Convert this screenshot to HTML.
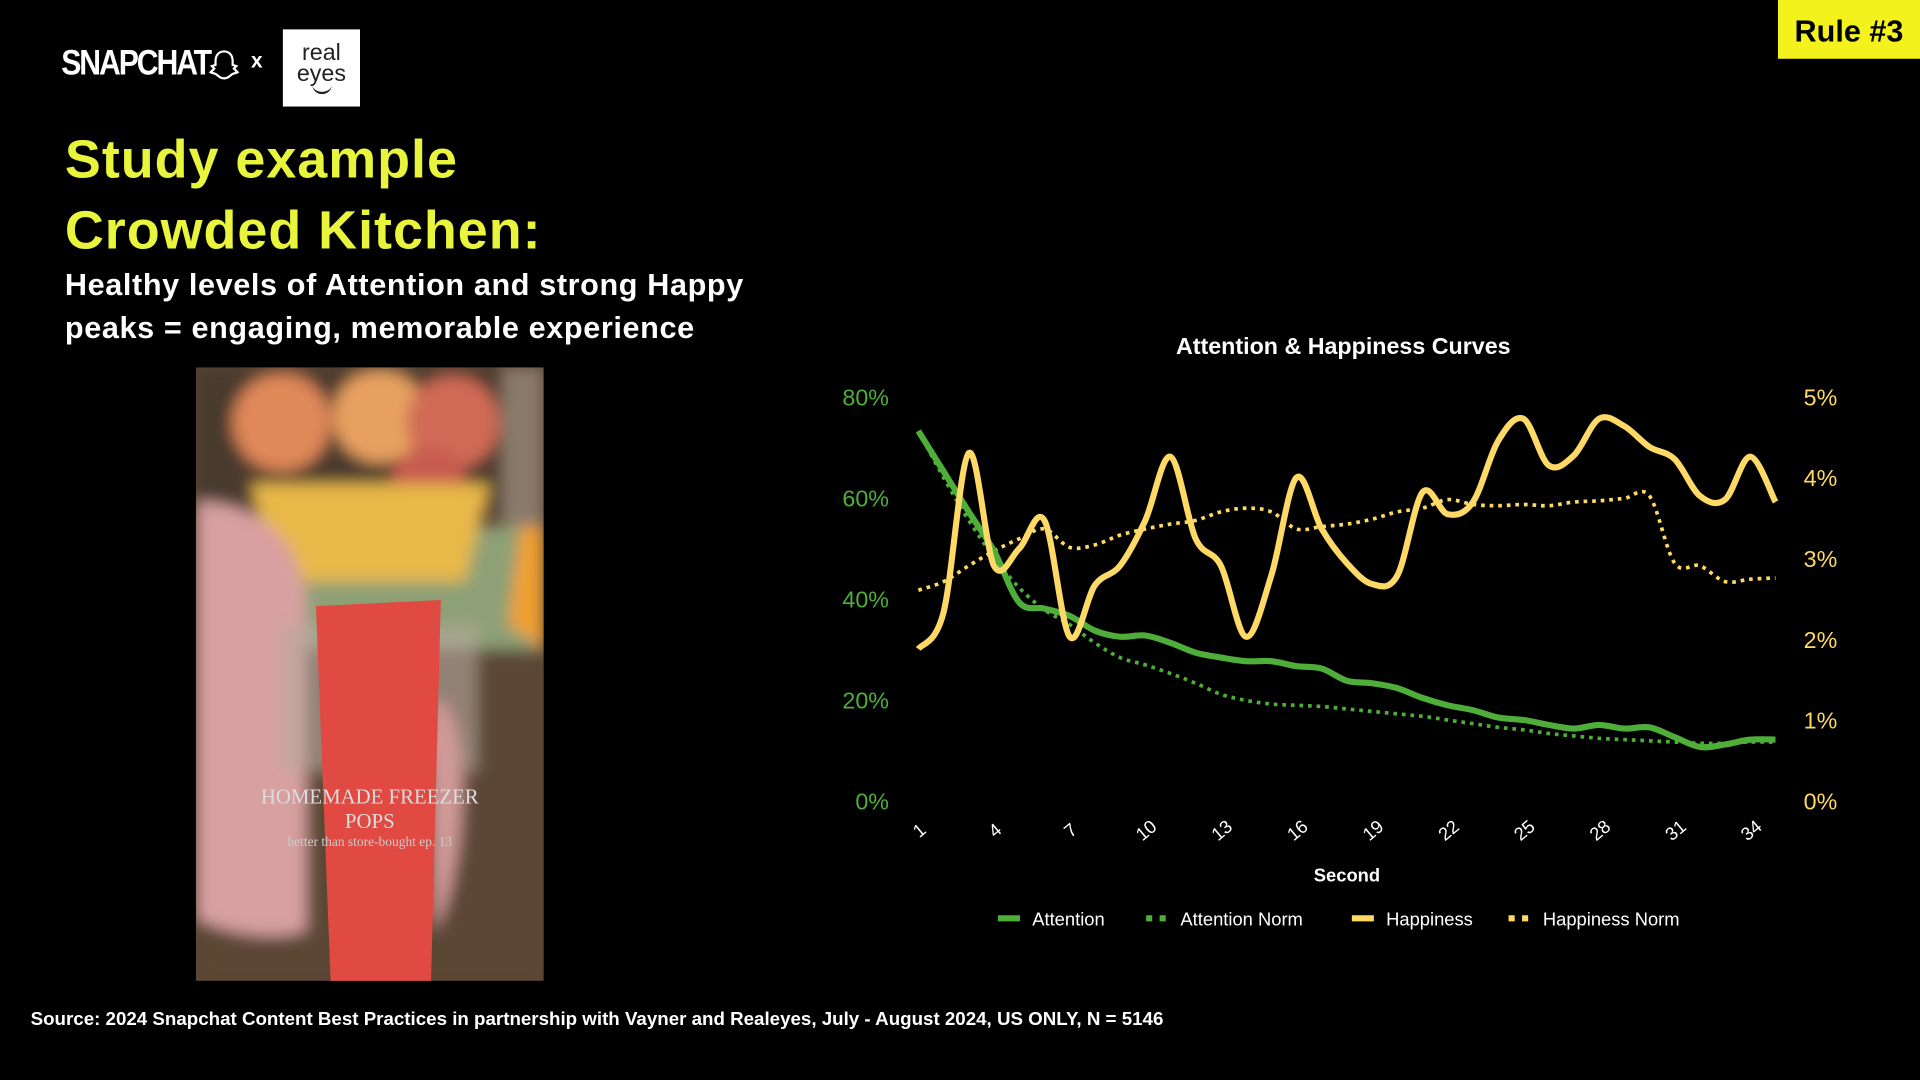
<!DOCTYPE html>
<html><head><meta charset="utf-8"><style>
html,body{margin:0;padding:0;background:#000;overflow:hidden}
#stage{position:absolute;left:0;top:0;width:1568px;height:882px;transform:scale(1.22449);transform-origin:0 0;background:#000;font-family:"Liberation Sans",sans-serif}
.abs{position:absolute;white-space:nowrap}
</style></head><body>
<div id="stage">
<div class="abs" style="left:50px;top:36px;color:#fff;font-weight:bold;font-size:29px;letter-spacing:-2px;transform:scaleX(0.85);transform-origin:0 0">SNAPCHAT</div>
<svg class="abs" style="left:170px;top:40px" width="26" height="26" viewBox="0 0 26 26"><path d="M13 2c5 0 7 4 7 8v3l3 1-2 2 3 3c-2 1-4 1-5 2-2 2-4 3-6 3s-4-1-6-3c-1-1-3-1-5-2l3-3-2-2 3-1v-3c0-4 2-8 7-8z" fill="none" stroke="#fff" stroke-width="1.8"/></svg>
<div class="abs" style="left:205px;top:40px;color:#fff;font-weight:bold;font-size:17px">x</div>
<div class="abs" style="left:231px;top:24px;width:63px;height:63px;background:#fff;color:#222;font-size:19px;line-height:17px;text-align:center;padding-top:11px;box-sizing:border-box">real<br>eyes<div style="width:16px;height:6px;border-bottom:2px solid #222;border-radius:0 0 10px 10px;margin:0 auto"></div></div>
<div class="abs" style="left:1452px;top:0;width:116px;height:48px;background:#f4f21c;color:#000;font-weight:bold;font-size:25px;line-height:52px;text-align:center">Rule #3</div>
<div class="abs" style="left:53px;top:102px;color:#e8f53c;font-weight:bold;font-size:44px;line-height:58px;letter-spacing:0.8px">Study example<br>Crowded Kitchen:</div>
<div class="abs" style="left:53px;top:216px;color:#fff;font-weight:bold;font-size:25px;line-height:35px;letter-spacing:0.5px">Healthy levels of Attention and strong Happy<br>peaks = engaging, memorable experience</div>
<svg class="abs" style="left:160px;top:300px" width="284" height="501" viewBox="0 0 284 501">
<defs><filter id="b"><feGaussianBlur stdDeviation="6"/></filter></defs>
<rect width="284" height="501" fill="#5a4432"/>
<g filter="url(#b)">
<rect width="284" height="120" fill="#4a3a2e"/>
<rect x="250" y="0" width="34" height="250" fill="#8a7a6a"/>
<rect x="0" y="130" width="284" height="100" fill="#8ea076"/>
<rect x="0" y="230" width="284" height="271" fill="#5b4634"/>
<circle cx="70" cy="45" r="40" fill="#e08858"/><circle cx="150" cy="40" r="38" fill="#e8a060"/><circle cx="210" cy="45" r="38" fill="#d06a55"/><circle cx="190" cy="95" r="30" fill="#c85a50"/>
<polygon points="45,95 240,95 220,175 65,175" fill="#e8b848"/>
<polygon points="265,130 284,130 284,230 255,210" fill="#f0a030"/>
<path d="M0 110 C60 110 90 150 90 200 L90 460 C60 470 20 460 0 450 Z" fill="#d8a0a0"/>
<rect x="70" y="210" width="160" height="120" fill="#b8a8a0" opacity="0.6"/>
<path d="M195 270 C230 280 220 420 195 460 L190 300 Z" fill="#d09a98"/>
</g>
<path d="M98 195 L200 190 L192 501 L110 501 Z" fill="#e04a42"/>
<text x="142" y="356" text-anchor="middle" fill="#ddd" font-family="Liberation Serif,serif" font-size="17">HOMEMADE FREEZER</text>
<text x="142" y="376" text-anchor="middle" fill="#ddd" font-family="Liberation Serif,serif" font-size="17">POPS</text>
<text x="142" y="391" text-anchor="middle" fill="#ccc" font-family="Liberation Serif,serif" font-size="11">better than store-bought ep. 13</text>
</svg>
<div class="abs" style="left:25px;top:824px;color:#fff;font-weight:bold;font-size:15.3px">Source: 2024 Snapchat Content Best Practices in partnership with Vayner and Realeyes, July - August 2024, US ONLY, N = 5146</div>
<svg id="ch" class="abs" style="left:0;top:0" width="1568" height="882" font-family="Liberation Sans,sans-serif"></svg>
</div>
<script>
const s=document.getElementById('ch');let h='';
h+='<text x="1097" y="289" text-anchor="middle" fill="#fff" font-weight="bold" font-size="19">Attention &amp; Happiness Curves</text>';
['0%','20%','40%','60%','80%'].forEach((t,i)=>{h+=`<text x="726" y="${661-i*82.5}" text-anchor="end" fill="#4fae3a" font-size="19">${t}</text>`;});
['0%','1%','2%','3%','4%','5%'].forEach((t,i)=>{h+=`<text x="1473" y="${661-i*66}" fill="#ffd966" font-size="19">${t}</text>`;});
const X=i=>750+(i-1)*700/34;
for(let i=1;i<=35;i+=3){h+=`<text transform="translate(${X(i)+4},${682}) rotate(-40)" text-anchor="middle" fill="#fff" font-size="15">${i}</text>`;}
h+='<text x="1100" y="720" text-anchor="middle" fill="#fff" font-weight="bold" font-size="15">Second</text>';
const A=[352,385,418,450,492,497,503,515,520,519,525,533,537,540,540,544,546,556,558,562,570,576,580,586,588,592,595,592,595,594,602,610,608,604,604];
const AN=[352,390,425,455,480,498,510,525,537,543,550,558,567,572,575,576,577,579,581,583,585,588,591,594,596,599,601,603,604,605,606,607,607,606,606];
const H=[530,500,370,462,448,425,520,478,462,425,373,440,462,520,470,390,432,460,477,470,402,420,410,360,342,380,372,342,348,365,375,405,408,373,410];
const HN=[482,475,462,450,440,432,447,445,437,432,428,425,418,415,418,432,430,428,424,418,415,408,412,413,412,413,410,409,407,405,460,462,475,473,472];
function path(Y){const p=Y.map((y,i)=>[X(i+1),y]);let d=`M${p[0][0]},${p[0][1]}`;for(let i=0;i<p.length-1;i++){const p0=p[i-1]||p[i],p1=p[i],p2=p[i+1],p3=p[i+2]||p2;d+=` C${p1[0]+(p2[0]-p0[0])/6},${p1[1]+(p2[1]-p0[1])/6} ${p2[0]-(p3[0]-p1[0])/6},${p2[1]-(p3[1]-p1[1])/6} ${p2[0]},${p2[1]}`;}return d;}
h+=`<path d="${path(HN)}" fill="none" stroke="#ffd966" stroke-width="3" stroke-dasharray="3 4"/>`;
h+=`<path d="${path(AN)}" fill="none" stroke="#4fae3a" stroke-width="3" stroke-dasharray="3 4"/>`;
h+=`<path d="${path(A)}" fill="none" stroke="#4fae3a" stroke-width="5"/>`;
h+=`<path d="${path(H)}" fill="none" stroke="#ffd966" stroke-width="5"/>`;
const L=[[815,'Attention','#4fae3a',0],[936,'Attention Norm','#4fae3a',1],[1104,'Happiness','#ffd966',0],[1232,'Happiness Norm','#ffd966',1]];
L.forEach(([x,t,c,d])=>{h+=`<line x1="${x}" y1="750" x2="${x+18}" y2="750" stroke="${c}" stroke-width="5" ${d?'stroke-dasharray="5 6"':''}/><text x="${x+28}" y="756" fill="#fff" font-size="15">${t}</text>`;});
s.innerHTML=h;
</script>
</body></html>
